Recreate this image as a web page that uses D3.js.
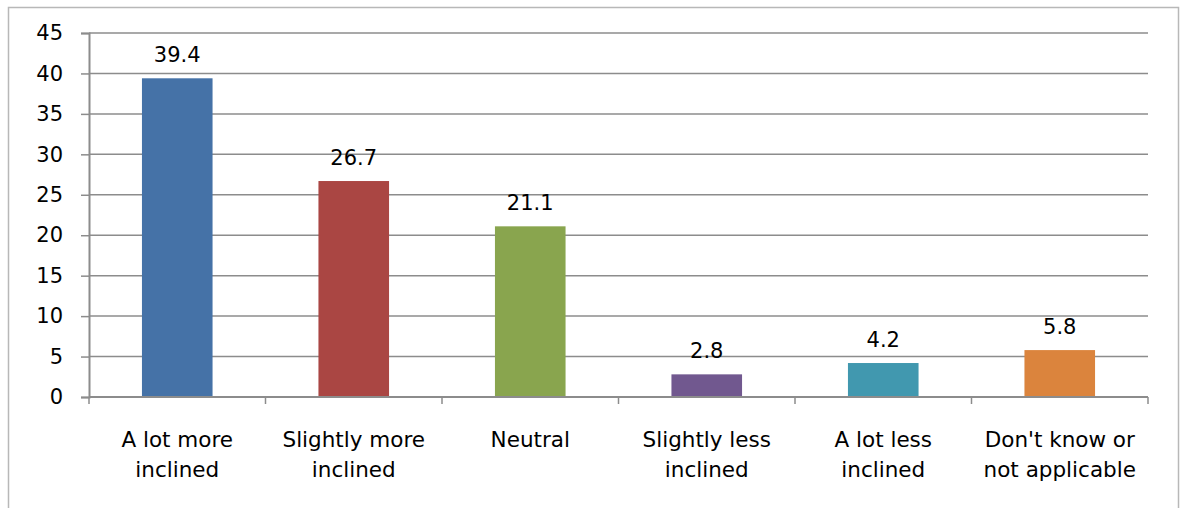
<!DOCTYPE html>
<html>
<head>
<meta charset="utf-8">
<script src="https://cdn.jsdelivr.net/npm/d3@7"></script>
<style>
  body { margin: 0; background: #fff; }
  text { font-family: "DejaVu Sans", sans-serif; fill: #000; }
</style>
</head>
<body>
<div id="chart"></div>
<script>
// data
var categories = [["A lot more", "inclined"], ["Slightly more", "inclined"], ["Neutral"],
                  ["Slightly less", "inclined"], ["A lot less", "inclined"], ["Don't know or", "not applicable"]];
var values = [39.4, 26.7, 21.1, 2.8, 4.2, 5.8];
var colors = ["#4572A7", "#AA4643", "#89A54E", "#71588F", "#4198AF", "#DB843D"];
var yTicks = [0, 5, 10, 15, 20, 25, 30, 35, 40, 45];

var W = 1186, H = 508;
var margin = {top: 33, right: 38, bottom: 111, left: 89},
    width = W - margin.left - margin.right,
    height = H - margin.top - margin.bottom;

var svg = d3.select("#chart").append("svg")
    .attr("width", W)
    .attr("height", H);

// outer frame
svg.append("rect")
    .attr("x", 8.5).attr("y", 7.5)
    .attr("width", 1170).attr("height", 520)
    .attr("fill", "none").attr("stroke", "#b8b8b8").attr("stroke-width", 1.5);

var g = svg.append("g")
    .attr("transform", "translate(" + margin.left + "," + margin.top + ")");

var idx = d3.range(categories.length);
var x = d3.scaleBand().domain(idx).range([0, width]).paddingInner(0.6).paddingOuter(0.3);
var xb = d3.scaleBand().domain(idx).range([0, width]);
var y = d3.scaleLinear().domain([0, 45]).range([height, 0]);

// gridlines
g.selectAll(".grid").data(yTicks.filter(function(d) { return d > 0; }))
  .enter().append("line")
    .attr("x1", 0).attr("x2", width)
    .attr("y1", function(d) { return y(d); }).attr("y2", function(d) { return y(d); })
    .attr("stroke", "#8c8c8c").attr("stroke-width", 1.5);

// y axis
var yAxis = g.append("g")
    .call(d3.axisLeft(y).tickValues(yTicks).tickSize(8).tickPadding(18));
yAxis.select(".domain").attr("stroke", "#8c8c8c").attr("stroke-width", 2);
yAxis.selectAll(".tick line").attr("stroke", "#8c8c8c").attr("stroke-width", 1.5);
yAxis.selectAll("text").style("font-size", "21px").attr("fill", "#000");

// bars
g.selectAll(".bar").data(values)
  .enter().append("rect")
    .attr("x", function(d, i) { return x(i); })
    .attr("width", x.bandwidth())
    .attr("y", function(d) { return y(d); })
    .attr("height", function(d) { return height - y(d); })
    .attr("fill", function(d, i) { return colors[i]; });

// value labels
g.selectAll(".val").data(values)
  .enter().append("text")
    .attr("x", function(d, i) { return x(i) + x.bandwidth() / 2; })
    .attr("y", function(d) { return y(d) - 16; })
    .attr("text-anchor", "middle")
    .style("font-size", "21px")
    .text(function(d) { return d.toFixed(1); });

// x axis line and ticks at category boundaries
g.append("line")
    .attr("x1", 0).attr("x2", width)
    .attr("y1", height).attr("y2", height)
    .attr("stroke", "#8c8c8c").attr("stroke-width", 2);
g.selectAll(".xtick").data(d3.range(categories.length + 1))
  .enter().append("line")
    .attr("x1", function(i) { return i < categories.length ? xb(i) : width; })
    .attr("x2", function(i) { return i < categories.length ? xb(i) : width; })
    .attr("y1", height).attr("y2", height + 7)
    .attr("stroke", "#8c8c8c").attr("stroke-width", 1.5);

// category labels
var lab = g.selectAll(".cat").data(categories)
  .enter().append("text")
    .attr("text-anchor", "middle")
    .attr("transform", function(d, i) {
      return "translate(" + (xb(i) + xb.bandwidth() / 2) + "," + (height + 50) + ")";
    })
    .style("font-size", "21.5px");
lab.selectAll("tspan").data(function(d) { return d; })
  .enter().append("tspan")
    .attr("x", 0)
    .attr("dy", function(d, i) { return i === 0 ? 0 : 30; })
    .text(function(d) { return d; });
</script>
</body>
</html>
